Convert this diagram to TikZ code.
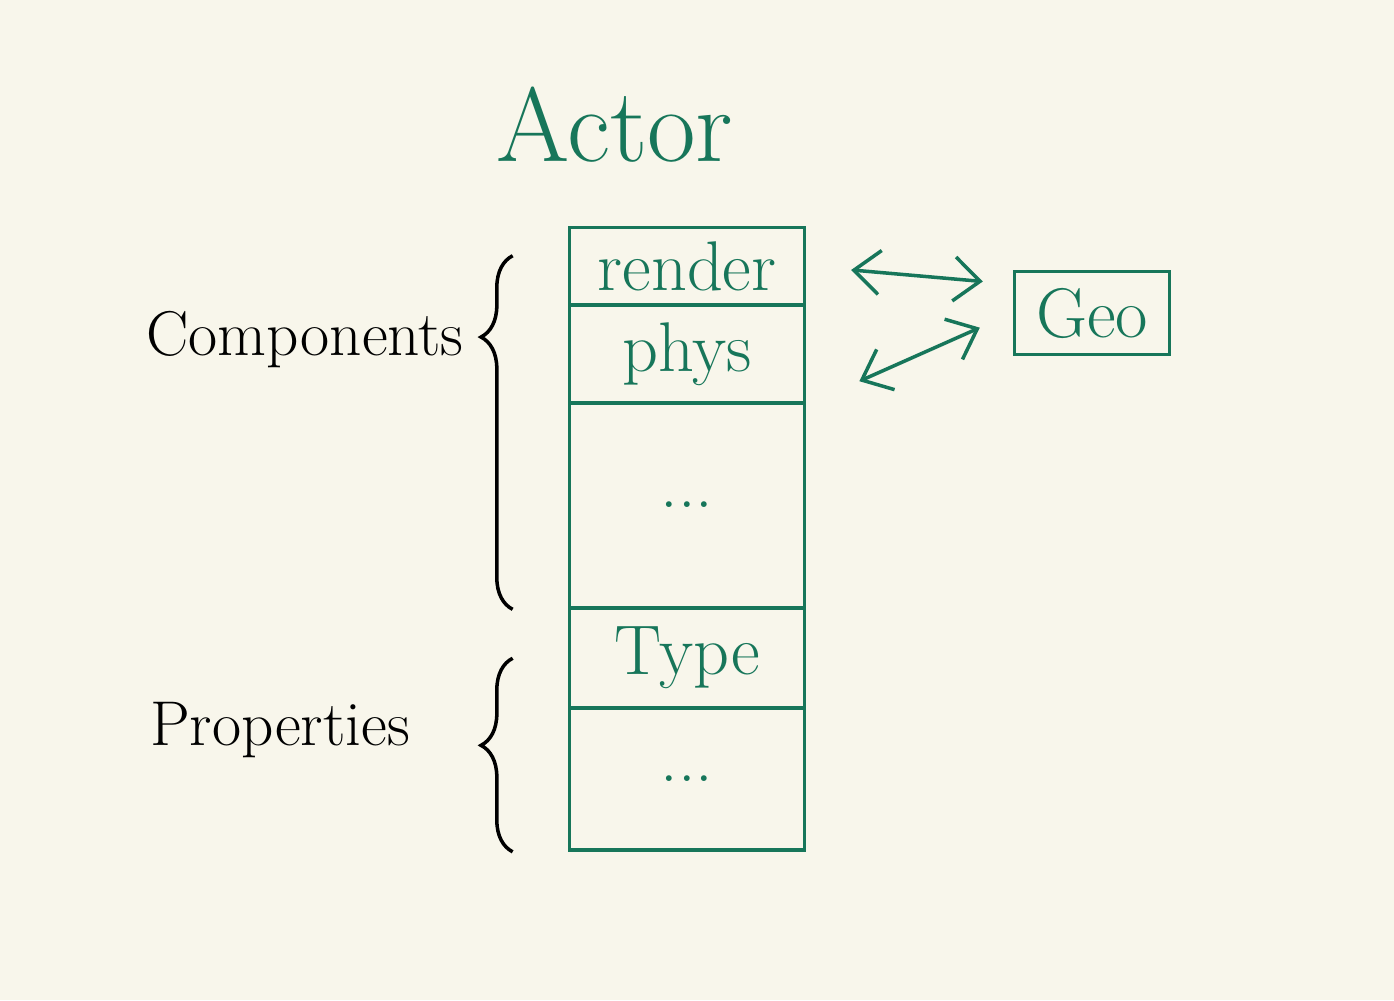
\documentclass[tikz,border=0pt]{standalone}
\usetikzlibrary{arrows.meta,decorations.pathreplacing}
\definecolor{ink}{HTML}{17765A}
\definecolor{paper}{HTML}{F8F6EB}
\begin{document}
\begin{tikzpicture}
[x=0.01cm,y=-0.01cm, cell/.style={draw=ink,line width=1pt,text=ink,minimum width=2.35cm,inner sep=0pt,font=\fontsize{20}{24}\selectfont},
lab/.style={font=\fontsize{18}{22}\selectfont}, brc/.style={decorate,decoration={brace,amplitude=9pt,aspect=#1},line width=1pt},
arr/.style={draw=ink,line width=1pt,<->}, >={Straight Barb[length=2.6mm,width=4.4mm]}]
\fill[paper](0,0)rectangle(1394,1000);
\node(actor) at (615,125)[text=ink,font=\fontsize{30}{36}\selectfont]{Actor};
\node(render) at (687,266)[cell,minimum height=0.77cm]{render};\node(phys) at (687,354)[cell,minimum height=0.98cm]{phys};
\node(dotsa) at (687,505)[cell,minimum height=2.05cm]{...};\node(type) at (687,658)[cell,minimum height=1cm]{Type};
\node(dotsb) at (687,779)[cell,minimum height=1.42cm]{...};
\node(geo) at (1092,313)[cell,minimum width=1.55cm,minimum height=0.83cm]{Geo};
\node(comp) at (305,340)[lab]{Components};\node(prop) at (280,730)[lab]{Properties};
\draw[brc=0.77]([xshift=-0.55cm]dotsa.south west)--([xshift=-0.55cm,yshift=-0.3cm]render.north west);
\draw[brc=0.55]([xshift=-0.55cm]dotsb.south west)--([xshift=-0.55cm,yshift=-0.52cm]type.north west);
\draw[arr,shorten <=0.45cm,shorten >=0.3cm](render.east)--(geo.160);
\draw[arr,shorten <=0.58cm,shorten >=0.36cm](phys.south east)--(geo.west);
\end{tikzpicture}
\end{document}
